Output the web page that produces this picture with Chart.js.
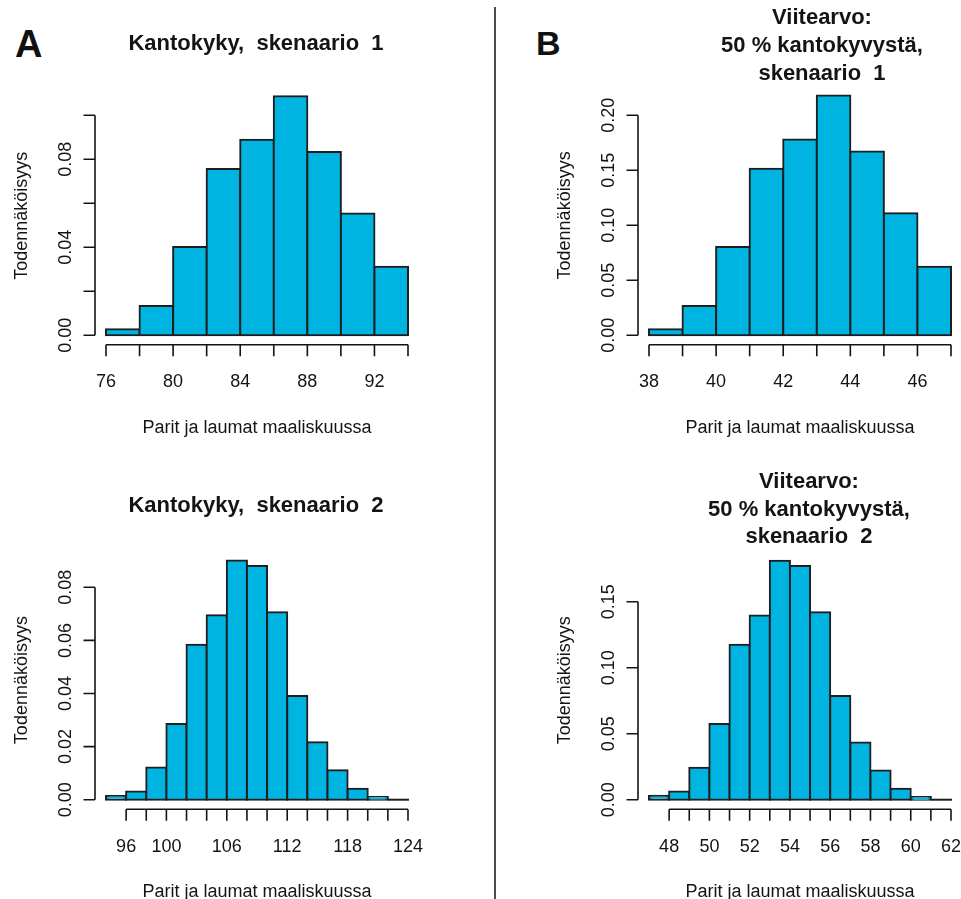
<!DOCTYPE html>
<html lang="fi">
<head>
<meta charset="utf-8">
<title>Kantokyky ja viitearvo</title>
<script src="https://cdn.jsdelivr.net/npm/chart.js@4.4.1/dist/chart.umd.min.js"></script>
<style>
  html, body { margin: 0; padding: 0; background: #fff; }
  body { position: relative; width: 961px; height: 899px; overflow: hidden;
         font-family: "Liberation Sans", Arial, sans-serif; color: #111; }
  canvas { position: absolute; }
  .tag { position: absolute; font-weight: bold; line-height: 1; }
  #divider { position: absolute; left: 494px; top: 7px; width: 2px; height: 892px;
             background: #4d4d4d; z-index: 2; }
</style>
</head>
<body>
<div class="tag" style="left:15px; top:25px; font-size:38px">A</div>
<div class="tag" style="left:536px; top:26px; font-size:34px">B</div>
<div id="divider"></div>
<canvas id="histA1" width="480" height="450" style="left:0; top:0"></canvas>
<canvas id="histB1" width="480" height="450" style="left:481px; top:0"></canvas>
<canvas id="histA2" width="480" height="449" style="left:0; top:450px"></canvas>
<canvas id="histB2" width="480" height="449" style="left:481px; top:450px"></canvas>
<script>
// ==========================================
// Data: bin edges and densities
// ==========================================

// Kantokyky, skenaario 1
const edgesA1 = [76, 78, 80, 82, 84, 86, 88, 90, 92, 94];
const densA1 = [0.0027, 0.0133, 0.0401, 0.0756, 0.0889, 0.1087, 0.0833, 0.0554, 0.0312];
const xTicksA1 = [76, 78, 80, 82, 84, 86, 88, 90, 92, 94];
const xLabelsA1 = [76, 80, 84, 88, 92];
const yTicksA1 = [0, 0.02, 0.04, 0.06, 0.08, 0.10];
const yLabelsA1 = [0, 0.04, 0.08];

// Viitearvo, skenaario 1
const edgesB1 = [38, 39, 40, 41, 42, 43, 44, 45, 46, 47];
const densB1 = [0.0055, 0.0267, 0.0803, 0.1515, 0.1780, 0.2180, 0.1670, 0.1110, 0.0624];
const xTicksB1 = [38, 39, 40, 41, 42, 43, 44, 45, 46, 47];
const xLabelsB1 = [38, 40, 42, 44, 46];
const yTicksB1 = [0, 0.05, 0.10, 0.15, 0.20];
const yLabelsB1 = [0, 0.05, 0.10, 0.15, 0.20];

// Kantokyky, skenaario 2
const edgesA2 = [94, 96, 98, 100, 102, 104, 106, 108, 110, 112, 114, 116, 118, 120, 122, 124];
const densA2 = [0.0014, 0.0031, 0.0121, 0.0285, 0.0584, 0.0695, 0.0901, 0.0880,
                0.0706, 0.0391, 0.0216, 0.0111, 0.0041, 0.0010, 0];
const xTicksA2 = [96, 98, 100, 102, 104, 106, 108, 110, 112, 114, 116, 118, 120, 122, 124];
const xLabelsA2 = [96, 100, 106, 112, 118, 124];
const yTicksA2 = [0, 0.02, 0.04, 0.06, 0.08];
const yLabelsA2 = [0, 0.02, 0.04, 0.06, 0.08];

// Viitearvo, skenaario 2
const edgesB2 = [47, 48, 49, 50, 51, 52, 53, 54, 55, 56, 57, 58, 59, 60, 61, 62];
const densB2 = [0.0030, 0.0063, 0.0242, 0.0573, 0.1174, 0.1396, 0.1810, 0.1770,
                0.1420, 0.0785, 0.0434, 0.0222, 0.0083, 0.0020, 0];
const xTicksB2 = [48, 49, 50, 51, 52, 53, 54, 55, 56, 57, 58, 59, 60, 61, 62];
const xLabelsB2 = [48, 50, 52, 54, 56, 58, 60, 62];
const yTicksB2 = [0, 0.05, 0.10, 0.15];
const yLabelsB2 = [0, 0.05, 0.10, 0.15];

const xTitle = "Parit ja laumat maaliskuussa";
const yTitle = "Todennäköisyys";

// ==========================================
// Look
// ==========================================

const barFill = "#00b4e2";
const barEdge = "#1e1e1e";
const ink = "#141414";
const tickFont = '18px "Liberation Sans", Arial, sans-serif';
const titleFont = 'bold 22px "Liberation Sans", Arial, sans-serif';

// plot frame inside each canvas: left/right edge of the bins, baseline and scale
const frames = {
   A1: { left: 106, right: 408, zero: 335.3, top: 80, perUnit: 2200, titleX: 256, titleY: [50] },
   B1: { left: 168, right: 470, zero: 335.3, top: 80, perUnit: 1100, titleX: 341, titleY: [24, 52, 80] },
   A2: { left: 106, right: 408, zero: 349.7, top: 80, perUnit: 2655, titleX: 256, titleY: [62] },
   B2: { left: 168, right: 470, zero: 349.7, top: 80, perUnit: 1320, titleX: 328, titleY: [38, 66, 93] }
};

// R style axes, offset from the plot, drawn by hand
function rAxes(cfg) {
   return {
      id: "rAxes",
      afterDatasetsDraw(chart) {
         const { ctx, scales: { x, y } } = chart;
         const zeroY = y.getPixelForValue(0);
         ctx.save();
         ctx.strokeStyle = ink;
         ctx.fillStyle = ink;

         // empty bins still leave their outline on the baseline
         ctx.lineWidth = 2;
         ctx.strokeStyle = barEdge;
         ctx.beginPath();
         cfg.dens.forEach((d, i) => {
            if (d === 0) {
               ctx.moveTo(x.getPixelForValue(cfg.edges[i]), zeroY);
               ctx.lineTo(x.getPixelForValue(cfg.edges[i + 1]) + 1, zeroY);
            }
         });
         ctx.stroke();

         // x axis
         ctx.strokeStyle = ink;
         ctx.lineWidth = 1.6;
         const axY = zeroY + 9.5;
         ctx.beginPath();
         ctx.moveTo(x.getPixelForValue(cfg.xTicks[0]), axY);
         ctx.lineTo(x.getPixelForValue(cfg.xTicks[cfg.xTicks.length - 1]), axY);
         cfg.xTicks.forEach((v) => {
            const px = x.getPixelForValue(v);
            ctx.moveTo(px, axY);
            ctx.lineTo(px, axY + 11.5);
         });
         ctx.stroke();

         ctx.font = tickFont;
         ctx.textAlign = "center";
         ctx.textBaseline = "alphabetic";
         cfg.xLabels.forEach((v) => {
            ctx.fillText(String(v), x.getPixelForValue(v), axY + 42.5);
         });
         const midX = x.getPixelForValue((cfg.edges[0] + cfg.edges[cfg.edges.length - 1]) / 2);
         ctx.fillText(xTitle, midX, axY + 88);

         // y axis
         const axX = x.left - 11;
         ctx.beginPath();
         ctx.moveTo(axX, y.getPixelForValue(cfg.yTicks[0]));
         ctx.lineTo(axX, y.getPixelForValue(cfg.yTicks[cfg.yTicks.length - 1]));
         cfg.yTicks.forEach((v) => {
            const py = y.getPixelForValue(v);
            ctx.moveTo(axX, py);
            ctx.lineTo(axX - 11.5, py);
         });
         ctx.stroke();

         cfg.yLabels.forEach((v) => {
            ctx.save();
            ctx.translate(axX - 24, y.getPixelForValue(v));
            ctx.rotate(-Math.PI / 2);
            ctx.fillText(v.toFixed(2), 0, 0);
            ctx.restore();
         });

         ctx.save();
         ctx.translate(x.left - 79, y.getPixelForValue(Math.max(...cfg.dens) / 2));
         ctx.rotate(-Math.PI / 2);
         ctx.fillText(yTitle, 0, 0);
         ctx.restore();

         // main title
         ctx.font = titleFont;
         cfg.title.forEach((line, i) => {
            ctx.fillText(line, cfg.frame.titleX, cfg.frame.titleY[i]);
         });

         ctx.restore();
      }
   };
}

function drawHist(id, cfg) {
   const canvas = document.getElementById(id);
   const f = cfg.frame;
   const points = cfg.dens.map((d, i) => ({ x: (cfg.edges[i] + cfg.edges[i + 1]) / 2, y: d }));
   return new Chart(canvas, {
      type: "bar",
      data: {
         datasets: [{
            data: points,
            backgroundColor: barFill,
            borderColor: barEdge,
            // 2px edge centred on the bin boundary, as R strokes its rects
            borderWidth: 2,
            inflateAmount: 1,
            borderSkipped: false,
            barPercentage: 1,
            categoryPercentage: 1,
            clip: false
         }]
      },
      options: {
         responsive: false,
         animation: false,
         events: [],
         layout: {
            padding: {
               left: f.left,
               right: canvas.width - f.right,
               top: f.top,
               bottom: canvas.height - f.zero
            }
         },
         scales: {
            x: {
               type: "linear",
               display: false,
               offset: false,
               min: cfg.edges[0],
               max: cfg.edges[cfg.edges.length - 1],
               ticks: { stepSize: cfg.edges[1] - cfg.edges[0] }
            },
            y: {
               display: false,
               min: 0,
               max: (f.zero - f.top) / f.perUnit
            }
         },
         plugins: {
            legend: { display: false },
            tooltip: { enabled: false }
         }
      },
      plugins: [rAxes(cfg)]
   });
}

drawHist("histA1", {
   edges: edgesA1, dens: densA1, xTicks: xTicksA1, xLabels: xLabelsA1,
   yTicks: yTicksA1, yLabels: yLabelsA1, frame: frames.A1,
   title: ["Kantokyky,  skenaario  1"]
});
drawHist("histB1", {
   edges: edgesB1, dens: densB1, xTicks: xTicksB1, xLabels: xLabelsB1,
   yTicks: yTicksB1, yLabels: yLabelsB1, frame: frames.B1,
   title: ["Viitearvo:", "50 % kantokyvystä,", "skenaario  1"]
});
drawHist("histA2", {
   edges: edgesA2, dens: densA2, xTicks: xTicksA2, xLabels: xLabelsA2,
   yTicks: yTicksA2, yLabels: yLabelsA2, frame: frames.A2,
   title: ["Kantokyky,  skenaario  2"]
});
drawHist("histB2", {
   edges: edgesB2, dens: densB2, xTicks: xTicksB2, xLabels: xLabelsB2,
   yTicks: yTicksB2, yLabels: yLabelsB2, frame: frames.B2,
   title: ["Viitearvo:", "50 % kantokyvystä,", "skenaario  2"]
});
</script>
</body>
</html>
